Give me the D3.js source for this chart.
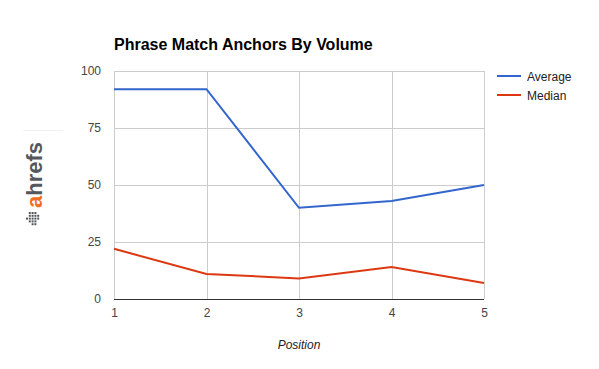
<!DOCTYPE html>
<meta charset="utf-8">
<head>
  <title>Phrase Match Anchors By Volume</title>
  <style>
    body { margin: 0; background: #fff; }
    text { font-family: Arial, "Liberation Sans", sans-serif; }
  </style>
</head>
<body>
<script src="https://d3js.org/d3.v7.min.js"></script>
<script>

const positions = [1, 2, 3, 4, 5];
const average = [92, 92, 40, 43, 50];
const median = [22, 11, 9, 14, 7];
const yTicks = [0, 25, 50, 75, 100];
const seriesNames = ["Average", "Median"];
const seriesColors = ["#3366cc", "#dc3912"];

const totalWidth = 599, totalHeight = 369,
      margin = {top: 71, right: 115, bottom: 70, left: 114},
      width = totalWidth - margin.left - margin.right,
      height = totalHeight - margin.top - margin.bottom;

const svg = d3.select("body")
    .append("svg")
    .attr("width", totalWidth)
    .attr("height", totalHeight);

const g = svg.append("g")
    .attr("transform", "translate(" + margin.left + "," + margin.top + ")");

const x = d3.scaleLinear()
    .domain([1, 5])
    .range([0, width]);

const y = d3.scaleLinear()
    .domain([0, 100])
    .range([height, 0]);

// title
svg.append("text")
  .attr("x", margin.left)
  .attr("y", 50)
  .style("font-size", "16px")
  .style("font-weight", "bold")
  .style("fill", "#000")
  .text("Phrase Match Anchors By Volume");

// grid
g.append("g")
  .selectAll("line")
  .data(yTicks.filter(d => d > 0))
  .join("line")
  .attr("x1", 0).attr("x2", width)
  .attr("y1", d => y(d) + 0.5).attr("y2", d => y(d) + 0.5)
  .style("stroke", "#cccccc");

g.append("g")
  .selectAll("line")
  .data(positions)
  .join("line")
  .attr("x1", d => Math.round(x(d)) + 0.5).attr("x2", d => Math.round(x(d)) + 0.5)
  .attr("y1", 0).attr("y2", height)
  .style("stroke", "#cccccc");

// baseline
g.append("line")
  .attr("x1", 0).attr("x2", width)
  .attr("y1", y(0) + 0.5).attr("y2", y(0) + 0.5)
  .style("stroke", "#333333");

// y axis labels
const yAxis = g.append("g")
  .call(d3.axisLeft(y).tickValues(yTicks).tickSize(0).tickPadding(13));
yAxis.select(".domain").remove();
yAxis.selectAll("text")
  .style("font-family", "Arial, 'Liberation Sans', sans-serif")
  .style("font-size", "12px")
  .style("fill", "#444");

// x axis labels
const xAxis = g.append("g")
  .attr("transform", "translate(0," + height + ")")
  .call(d3.axisBottom(x).tickValues(positions).tickFormat(d3.format("d")).tickSize(0).tickPadding(9));
xAxis.select(".domain").remove();
xAxis.selectAll("text")
  .style("font-family", "Arial, 'Liberation Sans', sans-serif")
  .style("font-size", "12px")
  .style("fill", "#444");

// x axis title
svg.append("text")
  .attr("x", margin.left + width / 2)
  .attr("y", 349)
  .attr("text-anchor", "middle")
  .style("font-size", "12px")
  .style("font-style", "italic")
  .style("fill", "#222")
  .text("Position");

// lines
const line = d3.line()
  .x((d, i) => x(positions[i]))
  .y(d => y(d));

[average, median].forEach((values, i) => {
  g.append("path")
    .attr("d", line(values))
    .style("fill", "none")
    .style("stroke", seriesColors[i])
    .style("stroke-width", 2);
});

// legend
const legend = svg.append("g")
  .attr("transform", "translate(497,76)");

seriesNames.forEach((name, i) => {
  const row = legend.append("g").attr("transform", "translate(0," + i * 19 + ")");
  row.append("line")
    .attr("x1", 0).attr("x2", 24)
    .style("stroke", seriesColors[i])
    .style("stroke-width", 2);
  row.append("text")
    .attr("x", 30)
    .attr("y", 4.5)
    .style("font-size", "12px")
    .style("fill", "#222")
    .text(name);
});

// ahrefs watermark
const logo = svg.append("g")
  .attr("transform", "translate(42,208) rotate(-90)");

logo.append("text")
  .style("font-size", "22px")
  .style("font-weight", "bold")
  .selectAll("tspan")
  .data([["a", "#f26c22"], ["hrefs", "#54585d"]])
  .join("tspan")
  .style("fill", d => d[1])
  .text(d => d[0]);

svg.append("line")
  .attr("x1", 23).attr("x2", 63)
  .attr("y1", 130.5).attr("y2", 130.5)
  .style("stroke", "#f2f2f2");

// small dotted icon under the logo
const dots = [[0,1],[0,2],[0,3],[1,1],[1,2],[1,3],[1,4],[2,0],[2,1],[2,2],[2,3],[2,4],[3,1],[3,2],[3,3],[4,2],[4,3]];
svg.append("g")
  .attr("transform", "translate(26,212)")
  .selectAll("rect")
  .data(dots)
  .join("rect")
  .attr("x", d => d[1] * 2.8)
  .attr("y", d => d[0] * 2.8)
  .attr("width", 2)
  .attr("height", 2)
  .style("fill", "#54585d");

</script>
</body>
</html>
